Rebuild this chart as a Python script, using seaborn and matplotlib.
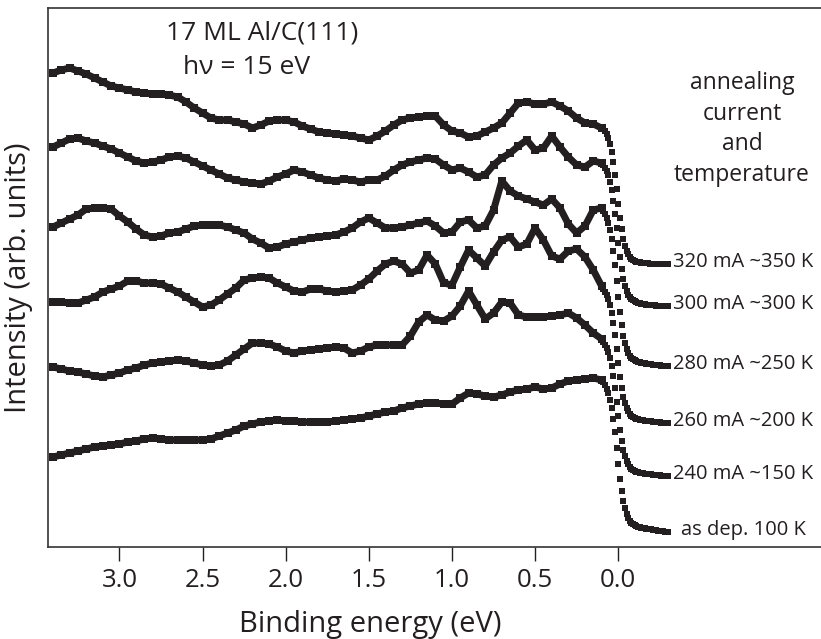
import numpy as np
import pandas as pd
import matplotlib
matplotlib.use("Agg")
import matplotlib.pyplot as plt
import seaborn as sns

# ---------------- data (arbitrary units) ----------------
energy_main = np.linspace(3.40, 0.10, 67)      # binding energy (eV), coarse part
energy_edge = np.linspace(0.09, -0.30, 40)     # binding energy (eV), Fermi-edge part

labels = ["320 mA ~350 K", "300 mA ~300 K", "280 mA ~250 K",
          "260 mA ~200 K", "240 mA ~150 K", "as dep. 100 K"]

main_320 = [474, 477, 479, 476, 473, 469, 465, 461, 459, 457,
            455, 454, 453, 453, 452, 450, 445, 439, 434, 429,
            427, 427, 425, 423, 419, 422, 426, 427, 427, 425,
            421, 418, 415, 414, 413, 412, 411, 409, 407, 411,
            416, 422, 427, 429, 430, 431, 431, 422, 416, 414,
            410, 411, 415, 419, 424, 434, 444, 445, 443, 443,
            445, 441, 436, 429, 424, 423, 419]
main_300 = [400, 404, 408, 409, 406, 404, 401, 398, 394, 390,
            386, 384, 385, 387, 390, 391, 389, 385, 381, 377,
            373, 369, 367, 365, 364, 363, 366, 370, 373, 377,
            375, 372, 369, 367, 366, 368, 367, 365, 367, 367,
            371, 377, 382, 385, 387, 389, 388, 382, 377, 379,
            375, 370, 372, 382, 389, 394, 401, 407, 397, 399,
            411, 400, 390, 382, 380, 386, 384]
main_280 = [320, 324, 328, 332, 338, 339, 339, 338, 331, 325,
            318, 312, 310, 311, 314, 315, 318, 321, 322, 322,
            322, 320, 317, 314, 308, 304, 299, 300, 303, 305,
            307, 309, 310, 311, 312, 315, 319, 325, 329, 324,
            319, 319, 320, 322, 324, 326, 321, 314, 315, 325,
            327, 319, 321, 337, 366, 356, 351, 348, 345, 342,
            348, 339, 323, 314, 321, 337, 339]
main_260 = [245, 245, 244, 244, 247, 250, 255, 258, 261, 266,
            266, 264, 264, 263, 259, 255, 250, 245, 240, 242,
            247, 253, 259, 267, 269, 270, 269, 264, 260, 256,
            255, 258, 258, 256, 255, 256, 257, 262, 268, 276,
            283, 286, 283, 274, 277, 292, 283, 264, 262, 280,
            297, 289, 281, 295, 307, 310, 300, 303, 319, 307,
            291, 288, 296, 298, 290, 277, 261]
main_240 = [180, 178, 176, 175, 173, 171, 170, 172, 174, 177,
            179, 182, 184, 185, 186, 187, 186, 184, 182, 181,
            182, 186, 192, 198, 204, 204, 203, 200, 196, 194,
            196, 197, 198, 199, 200, 199, 194, 196, 200, 202,
            202, 202, 202, 211, 225, 232, 227, 226, 231, 241,
            256, 242, 228, 234, 245, 244, 232, 230, 230, 230,
            231, 232, 234, 229, 222, 214, 208]
main_dep = [90, 92, 94, 96, 98, 100, 101, 102, 103, 105,
            106, 108, 109, 108, 107, 107, 107, 107, 107, 108,
            111, 114, 117, 121, 123, 125, 126, 127, 126, 126,
            125, 125, 125, 125, 126, 127, 128, 129, 131, 133,
            135, 136, 139, 141, 143, 144, 144, 143, 143, 149,
            154, 153, 151, 150, 152, 155, 157, 158, 160, 158,
            159, 163, 166, 167, 168, 169, 167]

edge_320 = [419, 416, 413, 409, 403, 395, 385, 372, 358, 343,
            329, 318, 308, 301, 296, 293, 290, 288, 287, 286,
            285, 285, 285, 284, 284, 284, 284, 284, 283, 283,
            283, 283, 283, 283, 283, 283, 283, 283, 283, 283]
edge_300 = [382, 379, 376, 372, 365, 357, 346, 333, 319, 304,
            290, 278, 268, 261, 256, 252, 250, 248, 247, 246,
            245, 244, 244, 243, 243, 243, 242, 242, 242, 242,
            242, 242, 241, 241, 241, 241, 241, 241, 241, 241]
edge_280 = [336, 333, 329, 324, 317, 308, 296, 282, 266, 250,
            235, 222, 211, 204, 198, 194, 191, 189, 188, 187,
            186, 185, 185, 184, 184, 184, 183, 183, 183, 183,
            182, 182, 182, 182, 182, 181, 181, 181, 181, 181]
edge_260 = [258, 255, 252, 248, 242, 234, 224, 212, 198, 184,
            170, 159, 150, 144, 139, 136, 133, 131, 130, 129,
            128, 128, 127, 127, 127, 126, 126, 126, 126, 126,
            125, 125, 125, 125, 125, 124, 124, 124, 124, 124]
edge_240 = [205, 202, 199, 195, 189, 181, 171, 159, 145, 131,
            117, 106, 97, 91, 86, 83, 80, 78, 77, 76,
            75, 75, 74, 74, 74, 73, 73, 73, 73, 73,
            72, 72, 72, 72, 72, 71, 71, 71, 71, 71]
edge_dep = [165, 162, 158, 154, 147, 139, 128, 115, 99, 83,
            68, 56, 46, 39, 33, 29, 26, 24, 23, 22,
            21, 20, 20, 19, 19, 19, 18, 18, 18, 18,
            17, 17, 17, 16, 16, 16, 16, 15, 15, 15]

mains = [main_320, main_300, main_280, main_260, main_240, main_dep]
edges = [edge_320, edge_300, edge_280, edge_260, edge_240, edge_dep]

df_main = pd.concat([pd.DataFrame({"energy": energy_main, "intensity": m, "spectrum": lab})
                     for m, lab in zip(mains, labels)], ignore_index=True)
df_edge = pd.concat([pd.DataFrame({"energy": energy_edge, "intensity": e, "spectrum": lab})
                     for e, lab in zip(edges, labels)], ignore_index=True)

# ---------------- style ----------------
sns.set_style("ticks")
plt.rcParams["font.family"] = ["Open Sans", "DejaVu Sans"]
ink = "#231f20"

W, H = 821, 639
fig = plt.figure(figsize=(W / 100, H / 100), dpi=100)
ax = fig.add_axes([48 / W, (H - 547) / H, (W - 48) / W, (547 - 8) / H])

sns.lineplot(data=df_main, x="energy", y="intensity", units="spectrum", estimator=None,
             color=ink, lw=5.0, marker="s", markersize=5.2, markeredgewidth=0,
             legend=False, ax=ax)
sns.scatterplot(data=df_edge, x="energy", y="intensity", marker="s", s=22,
                color=ink, linewidth=0, legend=False, ax=ax)

for e, lab in zip(edges, labels):
    ax.text(-0.751, e[-1] + 2, lab, ha="center", va="center", fontsize=14.5, color=ink)

ax.set_xlim(3.43, -1.22)
ax.set_ylim(0, 539)
ax.set_xticks([3.0, 2.5, 2.0, 1.5, 1.0, 0.5, 0.0])
ax.set_xticklabels(["3.0", "2.5", "2.0", "1.5", "1.0", "0.5", "0.0"])
ax.set_yticks([])
ax.tick_params(axis="x", direction="out", length=10, width=1.0, pad=5,
               labelsize=18.5, colors=ink)
for side in ["left", "bottom", "top"]:
    ax.spines[side].set_visible(True)
    ax.spines[side].set_color("#333333")
    ax.spines[side].set_linewidth(1.2)
ax.spines["right"].set_visible(False)

ax.set_xlabel("Binding energy (eV)", fontsize=21, color=ink)
ax.xaxis.set_label_coords((370 - 48) / 773, -0.117)
ax.set_ylabel("Intensity (arb. units)", fontsize=21, color=ink)
ax.yaxis.set_label_coords((33 - 48) / 773, 0.5)

fig.text(262 / W, 1 - 33 / H, "17 ML Al/C(111)", ha="center", va="center",
         fontsize=19, color=ink)
fig.text(247 / W, 1 - 67 / H, "h\u03bd = 15 eV", ha="center", va="center",
         fontsize=19, color=ink)
fig.text(742 / W, 1 - 129 / H, "annealing\ncurrent\nand\ntemperature",
         ha="center", va="center", multialignment="center", linespacing=1.36,
         fontsize=16.5, color=ink)

fig.savefig("out.png", dpi=100)
